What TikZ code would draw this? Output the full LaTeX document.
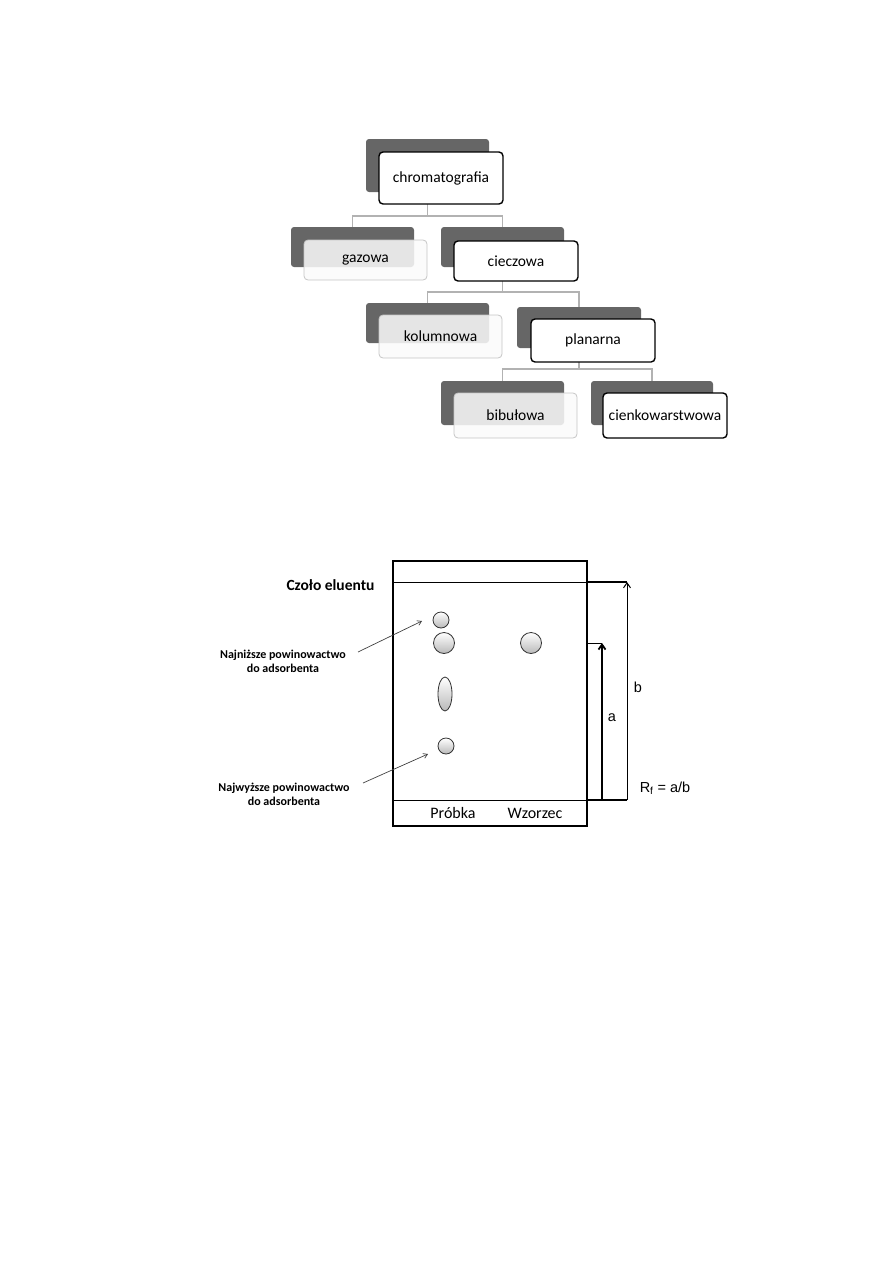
\documentclass[tikz,border=0pt]{standalone}
\usepackage{fontspec}
\setmainfont{Carlito}
\newfontfamily\arialf{Liberation Sans}
\usetikzlibrary{arrows.meta,calc,shapes.geometric}
\tikzset{
  shbox/.style={draw=none, fill={rgb,255:red,102;green,102;blue,102}, rounded corners=3pt, inner sep=0pt},
  darkbox/.style={draw=black, line width=1.4pt, fill=white, rounded corners=4pt, inner sep=0pt, font=\fontsize{15.5}{18}\selectfont},
  lightbox/.style={draw=gray!45, line width=0.8pt, fill=gray!4, fill opacity=0.86, text opacity=1, rounded corners=4pt, inner sep=0pt, font=\fontsize{15.5}{18}\selectfont},
  conn/.style={draw=gray!60, line width=1.8pt},
  spot/.style={draw=black!80, line width=0.8pt, top color=white, bottom color=gray!55, inner sep=0pt},
  annot/.style={draw=black!75, line width=0.7pt, -{Straight Barb[length=4pt,width=5pt]}},
  smallbold/.style={font=\fontsize{12}{14}\selectfont\bfseries, align=center},
  dimarrow/.style={-{Straight Barb[length=5pt,width=7pt]}},
  dimlab/.style={font=\arialf\fontsize{14.5}{16}\selectfont},
}
\begin{document}
\begin{tikzpicture}[x=1pt,y=-1pt]
\useasboundingbox (0,0) rectangle (893,1263);
% ---------- tree: shadows ----------
\node[shbox, minimum width=123pt, minimum height=53pt] (chromS) at (427.5,165.5) {};
\node[shbox, minimum width=123pt, minimum height=40pt] (gazS) at (352.5,247) {};
\node[shbox, minimum width=123pt, minimum height=40pt] (cieczS) at (502.5,247) {};
\node[shbox, minimum width=123pt, minimum height=40pt] (kolS) at (427.5,323) {};
\node[shbox, minimum width=124pt, minimum height=41pt] (planS) at (579,327.5) {};
\node[shbox, minimum width=123pt, minimum height=44pt] (bibS) at (502.5,403) {};
\node[shbox, minimum width=122pt, minimum height=44pt] (cienS) at (652,403) {};
% ---------- connectors ----------
\draw[conn] (chromS.south) -- ++(0,24) -| (gazS.north);
\draw[conn] (chromS.south) -- ++(0,24) -| (cieczS.north);
\draw[conn] (cieczS.south) -- ++(0,25) -| (kolS.north);
\draw[conn] (cieczS.south) -- ++(0,25) -| (planS.north);
\draw[conn] (planS.south) -- ++(0,21) -| (bibS.north);
\draw[conn] (planS.south) -- ++(0,21) -| (cienS.north);
% ---------- front boxes ----------
\node[darkbox, minimum width=124pt, minimum height=52pt] (chrom) at (441,178) {chromatografia};
\node[lightbox, minimum width=123pt, minimum height=40pt] (gaz) at (365.5,260) {gazowa};
\node[darkbox, minimum width=124pt, minimum height=40pt] (ciecz) at (516,261) {cieczowa};
\node[lightbox, minimum width=123pt, minimum height=43pt] (kol) at (440.5,336.5) {kolumnowa};
\node[darkbox, minimum width=124pt, minimum height=43pt] (plan) at (593,340.5) {planarna};
\node[lightbox, minimum width=123pt, minimum height=45pt] (bib) at (515.5,415.5) {bibułowa};
\node[darkbox, minimum width=124pt, minimum height=45pt] (cien) at (665,415.5) {cienkowarstwowa};
% ---------- TLC plate ----------
\node[draw=black, line width=1.4pt, minimum width=194pt, minimum height=265pt, inner sep=0pt] (plate) at (490,693.5) {};
\coordinate (frontL) at (393,582);
\coordinate (frontR) at (587,582);
\coordinate (baseL) at (393,800);
\coordinate (baseR) at (587,800);
\draw[line width=0.8pt] (frontL) -- (frontR);
\draw[line width=1pt] (baseL) -- (baseR);
% spots
\node[spot, circle, minimum size=16pt] (s1) at (441,620) {};
\node[spot, circle, minimum size=21pt] (s2) at (444,643) {};
\node[spot, ellipse, minimum width=14pt, minimum height=34pt] (s3) at (445,694) {};
\node[spot, circle, minimum size=16pt] (s4) at (446,746) {};
\node[spot, circle, minimum size=21pt] (w1) at (531,643) {};
% labels
\node[font=\fontsize{15.5}{18}\selectfont\bfseries, anchor=east] (czolo) at (378,585) {Czoło eluentu};
\node[smallbold] (najn) at (283,661) {Najniższe powinowactwo\\do adsorbenta};
\node[smallbold] (najw) at (284,794) {Najwyższe powinowactwo\\do adsorbenta};
\node[font=\fontsize{16}{18}\selectfont] (probka) at (453,813) {Próbka};
\node[font=\fontsize{16}{18}\selectfont] (wzorzec) at (535,813) {Wzorzec};
% annotation arrows
\coordinate (n1) at (358,652);
\coordinate (n2) at (422,621);
\coordinate (w1s) at (363,783);
\coordinate (w2) at (428,754);
\draw[annot] (n1) -- (n2);
\draw[annot] (w1s) -- (w2);
% dimension arrows
\coordinate (bTop) at (627,582);
\coordinate (bBot) at (627,800);
\coordinate (aTop) at (602,643);
\coordinate (aBot) at (602,800);
\coordinate (aL) at (587,643);
\draw[line width=1.2pt] (frontR) -- (bTop);
\draw[line width=1.8pt] (baseR) -- (bBot);
\draw[line width=1pt, dimarrow] (bBot) -- (bTop);
\draw[line width=0.7pt] (aL) -- (aTop);
\draw[line width=1.8pt, dimarrow] (aBot) -- (aTop);
\node[dimlab] (blab) at (638,687) {b};
\node[dimlab] (alab) at (612,718) {a};
\node[dimlab] (rf) at (665,788) {R\textsubscript{f} = a/b};
\end{tikzpicture}
\end{document}
